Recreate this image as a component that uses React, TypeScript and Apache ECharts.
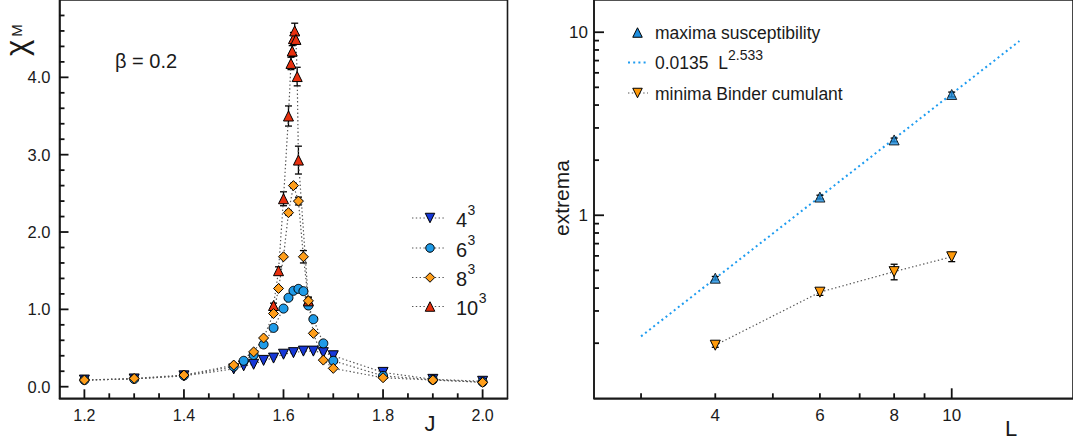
import React, { useEffect, useRef } from 'react';
import * as echarts from 'echarts';

// ---------- left panel: susceptibility chi_M vs J ----------
const J4 = [1.2, 1.3, 1.4, 1.5, 1.52, 1.54, 1.56, 1.58, 1.6, 1.62, 1.64, 1.66, 1.68, 1.7, 1.8, 1.9, 2.0];
const chi4 = [0.086, 0.1, 0.14, 0.23, 0.27, 0.29, 0.34, 0.37, 0.42, 0.44, 0.46, 0.46, 0.44, 0.4, 0.185, 0.095, 0.07];

const J6 = [1.2, 1.3, 1.4, 1.5, 1.52, 1.54, 1.56, 1.58, 1.6, 1.61, 1.62, 1.63, 1.64, 1.65, 1.66, 1.68, 1.7, 1.8, 1.9, 2.0];
const chi6 = [0.086, 0.1, 0.145, 0.26, 0.335, 0.41, 0.546, 0.76, 1.01, 1.15, 1.24, 1.265, 1.235, 1.05, 0.873, 0.56, 0.335, 0.14, 0.09, 0.06];

const J8 = [1.2, 1.3, 1.4, 1.5, 1.54, 1.56, 1.58, 1.59, 1.6, 1.61, 1.62, 1.63, 1.64, 1.65, 1.66, 1.68, 1.7, 1.8, 1.9, 2.0];
const chi8 = [0.086, 0.107, 0.15, 0.28, 0.45, 0.63, 0.946, 1.27, 1.68, 2.25, 2.6, 2.4, 1.68, 1.11, 0.69, 0.344, 0.237, 0.116, 0.086, 0.056];
const err8 = [0, 0, 0, 0, 0, 0, 0, 0, 0.02, 0.03, 0.03, 0.05, 0.08, 0.05, 0.02, 0, 0, 0, 0, 0];

const J10 = [1.58, 1.59, 1.6, 1.61, 1.615, 1.6175, 1.62, 1.6225, 1.625, 1.6275, 1.63, 1.65];
const chi10 = [1.05, 1.5, 2.43, 3.5, 4.18, 4.34, 4.5, 4.6, 4.49, 4.01, 2.93, 1.11];
const err10 = [0.03, 0.05, 0.09, 0.13, 0.08, 0.07, 0.08, 0.1, 0.06, 0.12, 0.18, 0.04];

const J_MIN = 1.15, J_MAX = 2.05, CHI_MIN = -0.15, CHI_MAX = 5;
const jTicks = [1.2, 1.4, 1.6, 1.8, 2.0];
const jMinor = [1.25, 1.3, 1.35, 1.45, 1.5, 1.55, 1.65, 1.7, 1.75, 1.85, 1.9, 1.95];
const chiTicks = [0, 1, 2, 3, 4];
const chiMinor = [0.2, 0.4, 0.6, 0.8, 1.2, 1.4, 1.6, 1.8, 2.2, 2.4, 2.6, 2.8, 3.2, 3.4, 3.6, 3.8, 4.2, 4.4, 4.6, 4.8];

// ---------- right panel: extrema vs L ----------
const L = [4, 6, 8, 10];
const maxChi = [0.453, 1.257, 2.58, 4.57];
const maxErr = [0.01, 0.03, 0.06, 0.14];
const minBinder = [0.195, 0.38, 0.492, 0.593];
const binderErr = [0.005, 0.015, 0.048, 0.035];
const fitL = [3, 13];
const fitVal = [0.218, 8.95];

const L_MIN = 2.5, L_MAX = 16, E_MIN = 0.1, E_MAX = 15;
const lTicks = [4, 6, 8, 10];
const lMajor = [10];
const lMinor = [3, 4, 5, 6, 7, 8, 9];
const eTicks = [1, 10];
const eMinor = [0.2, 0.3, 0.4, 0.5, 0.6, 0.7, 0.8, 0.9, 2, 3, 4, 5, 6, 7, 8, 9];

// legend labels
const sizeBase = ['4', '6', '8', '10'];
const sizeExp = '3';
const fitCoef = '0.0135  L';
const fitExp = '2.533';
const maxLabel = 'maxima susceptibility';
const minLabel = 'minima Binder cumulant';

const FONT = '"Liberation Sans", Arial, Helvetica, sans-serif';
const INK = '#1a1a1a';
const C4 = '#1638d8', C6 = '#1f9be8', C8 = '#ff9e1a', C10 = '#e8300e';
const CMAX = '#1e8fe0', CMIN = '#ff9a0a', CFIT = '#1e9cf0';

export default function App() {
  const ref = useRef<HTMLDivElement>(null);
  useEffect(() => {
    const chart = echarts.init(ref.current!, null, { renderer: 'svg' });
    const zip = (xs: number[], ys: number[], es?: number[]) =>
      xs.map((x, i) => (es ? [x, ys[i], es[i]] : [x, ys[i]]));
    const dotLine = { type: [1.4, 2.4], width: 1.2, color: '#555' };
    const axLine = { show: true, onZero: false, lineStyle: { color: INK, width: 1.6 } };
    const lbl = { fontSize: 16, color: INK, fontFamily: FONT };

    const errSeries = (xi: number, yi: number, data: number[][], z: number) => ({
      type: 'custom', xAxisIndex: xi, yAxisIndex: yi, z, silent: true, data,
      encode: { x: 0, y: 1 },
      renderItem: (_p: any, api: any) => {
        const x = api.value(0), y = api.value(1), e = api.value(2);
        if (!e) return null;
        const a = api.coord([x, y + e]);
        const b = api.coord([x, y - e]);
        const c = 3.5;
        const st = { stroke: '#000', lineWidth: 1.3 };
        return {
          type: 'group',
          children: [
            { type: 'line', shape: { x1: a[0], y1: a[1], x2: b[0], y2: b[1] }, style: st },
            { type: 'line', shape: { x1: a[0] - c, y1: a[1], x2: a[0] + c, y2: a[1] }, style: st },
            { type: 'line', shape: { x1: b[0] - c, y1: b[1], x2: b[0] + c, y2: b[1] }, style: st },
          ],
        };
      },
    });

    const sym = (color: string) => ({ color, borderColor: '#000', borderWidth: 1 });

    // ----- legend glyphs (graphic) -----
    const mk = (kind: string, cx: number, cy: number, fill: string, s: number) => {
      const st = { fill, stroke: '#000', lineWidth: 1 };
      const h = s / 2;
      if (kind === 'circle') return { type: 'circle', shape: { cx, cy, r: h - 0.5 }, style: st, z: 10 };
      if (kind === 'diamond')
        return { type: 'polygon', shape: { points: [[cx, cy - h], [cx + h, cy], [cx, cy + h], [cx - h, cy]] }, style: st, z: 10 };
      if (kind === 'up')
        return { type: 'polygon', shape: { points: [[cx, cy - h], [cx + h, cy + h], [cx - h, cy + h]] }, style: st, z: 10 };
      return { type: 'polygon', shape: { points: [[cx - h, cy - h], [cx + h, cy - h], [cx, cy + h]] }, style: st, z: 10 };
    };
    const dl = (x1: number, x2: number, y: number, stroke: string, w: number, dash: number[]) => ({
      type: 'line', shape: { x1, y1: y, x2, y2: y }, style: { stroke, lineWidth: w, lineDash: dash }, z: 9,
    });
    const txt = (t: string, x: number, y: number, size: number) => ({
      type: 'text', x, y, z: 10,
      style: { text: t, fontSize: size, fontFamily: FONT, fill: INK, verticalAlign: 'middle', align: 'left' },
    });

    const leftRows = [218, 248, 277.5, 306.5];
    const leftKinds = ['down', 'circle', 'diamond', 'up'];
    const leftFills = [C4, C6, C8, C10];
    const leftLegend: any[] = [];
    leftRows.forEach((y, i) => {
      leftLegend.push(dl(412, 446, y, '#555', 1.2, [1.4, 2.4]));
      leftLegend.push(mk(leftKinds[i], 430, y, leftFills[i], 9.5));
      leftLegend.push(txt(sizeBase[i], 456, y + 1.5, 20));
      leftLegend.push(txt(sizeExp, 456.5 + sizeBase[i].length * 11.1, y - 8.5, 14));
    });

    const rightLegend: any[] = [
      mk('up', 637.5, 32.5, CMAX, 9.5),
      txt(maxLabel, 655, 33, 17.5),
      dl(628, 648, 62.5, CFIT, 2, [2, 3.2]),
      txt(fitCoef, 655, 62.5, 17.5),
      txt(fitExp, 728, 55, 14),
      dl(628, 648, 93, '#555', 1.2, [1.4, 2.4]),
      mk('down', 637.5, 93, CMIN, 9.5),
      txt(minLabel, 655, 93.5, 17.5),
    ];

    const baseGraphic: any[] = [
      ...leftLegend,
      ...rightLegend,
      { type: 'text', left: 115, top: 51, style: { text: 'β = 0.2', fontSize: 20, fill: INK, fontFamily: FONT } },
      {
        type: 'text', x: 1, y: 56, rotation: Math.PI / 2,
        style: {
          text: '{c|χ}{m|M}', fill: INK,
          rich: {
            c: { fontSize: 31, fontFamily: FONT, fill: INK, lineHeight: 23, verticalAlign: 'top' },
            m: { fontSize: 15, fontFamily: FONT, fill: INK, verticalAlign: 'bottom', lineHeight: 15, padding: [0, 0, 0, 3] },
          },
        },
      },
      {
        type: 'text', x: 561, y: 198, rotation: Math.PI / 2,
        style: { text: 'extrema', fontSize: 21, fontFamily: FONT, fill: INK, align: 'center', verticalAlign: 'middle' },
      },
      { type: 'text', x: 430, y: 423, style: { text: 'J', fontSize: 22, fontFamily: FONT, fill: INK, align: 'center', verticalAlign: 'middle' } },
      { type: 'text', x: 1011, y: 428, style: { text: 'L', fontSize: 22, fontFamily: FONT, fill: INK, align: 'center', verticalAlign: 'middle' } },
    ];

    const option: any = {
      animation: false,
      backgroundColor: '#fff',
      grid: [
        { left: 59.5, top: -0.8, width: 448, height: 399.1, show: true, borderColor: INK, borderWidth: 1.6, containLabel: false },
        { left: 594, top: -1.2, width: 488, height: 399.5, show: true, borderColor: INK, borderWidth: 1.6, containLabel: false },
      ],
      xAxis: [
        {
          gridIndex: 0, type: 'value', min: J_MIN, max: J_MAX, position: 'bottom',
          axisLine: axLine, axisTick: { show: false },
          axisLabel: { ...lbl, customValues: jTicks, margin: 9, formatter: (v: number) => v.toFixed(1) },
          splitLine: { show: false },
        },
        {
          gridIndex: 1, type: 'log', logBase: 10, min: L_MIN, max: L_MAX, position: 'bottom',
          axisLine: axLine, axisTick: { show: false },
          axisLabel: { ...lbl, fontSize: 17, customValues: lTicks, margin: 9, formatter: (v: number) => String(Math.round(v)) },
          splitLine: { show: false },
        },
      ],
      yAxis: [
        {
          gridIndex: 0, type: 'value', min: CHI_MIN, max: CHI_MAX, position: 'left',
          axisLine: axLine, axisTick: { show: false },
          axisLabel: { ...lbl, fontSize: 16.5, customValues: chiTicks, margin: 9, formatter: (v: number) => v.toFixed(1) },
          splitLine: { show: false },
        },
        {
          gridIndex: 1, type: 'log', logBase: 10, min: E_MIN, max: E_MAX, position: 'left',
          axisLine: axLine, axisTick: { show: false },
          axisLabel: { ...lbl, fontSize: 17, customValues: eTicks, margin: 6, formatter: (v: number) => String(Math.round(v)) },
          splitLine: { show: false },
        },
      ],
      graphic: baseGraphic,
      series: [
        {
          name: '4^3', type: 'line', xAxisIndex: 0, yAxisIndex: 0, data: zip(J4, chi4), z: 3,
          symbol: 'triangle', symbolRotate: 180, symbolSize: 10, lineStyle: dotLine, itemStyle: sym(C4),
        },
        {
          name: '6^3', type: 'line', xAxisIndex: 0, yAxisIndex: 0, data: zip(J6, chi6), z: 3,
          symbol: 'circle', symbolSize: 9, lineStyle: dotLine, itemStyle: sym(C6),
        },
        errSeries(0, 0, zip(J10, chi10, err10), 2),
        {
          name: '10^3', type: 'line', xAxisIndex: 0, yAxisIndex: 0, data: zip(J10, chi10), z: 3,
          symbol: 'triangle', symbolSize: 10, lineStyle: dotLine, itemStyle: sym(C10),
        },
        errSeries(0, 0, zip(J8, chi8, err8), 2),
        {
          name: '8^3', type: 'line', xAxisIndex: 0, yAxisIndex: 0, data: zip(J8, chi8), z: 3,
          symbol: 'diamond', symbolSize: 10, lineStyle: dotLine, itemStyle: sym(C8),
        },
        {
          name: 'fit', type: 'line', xAxisIndex: 1, yAxisIndex: 1, data: zip(fitL, fitVal), z: 2,
          symbol: 'none', lineStyle: { type: [2, 3.2], width: 2, color: CFIT },
        },
        errSeries(1, 1, zip(L, maxChi, maxErr), 3),
        {
          name: maxLabel, type: 'scatter', xAxisIndex: 1, yAxisIndex: 1, data: zip(L, maxChi), z: 4,
          symbol: 'triangle', symbolSize: 10, itemStyle: sym(CMAX),
        },
        errSeries(1, 1, zip(L, minBinder, binderErr), 3),
        {
          name: minLabel, type: 'line', xAxisIndex: 1, yAxisIndex: 1, data: zip(L, minBinder), z: 4,
          symbol: 'triangle', symbolRotate: 180, symbolSize: 10, lineStyle: dotLine, itemStyle: sym(CMIN),
        },
      ],
    };
    chart.setOption(option);

    // inward axis ticks, placed with the chart's own axis scales
    const tickEls: any[] = [];
    const tickStyle = { stroke: '#111', lineWidth: 1.8 };
    const addX = (xi: number, yi: number, vals: number[], yv: number, len: number) =>
      vals.forEach((v) => {
        const p = chart.convertToPixel({ xAxisIndex: xi, yAxisIndex: yi }, [v, yv]) as number[];
        if (!p || !isFinite(p[0]) || !isFinite(p[1])) return;
        tickEls.push({ type: 'line', z: 20, shape: { x1: p[0], y1: p[1], x2: p[0], y2: p[1] - len }, style: tickStyle });
      });
    const addY = (xi: number, yi: number, vals: number[], xv: number, len: number) =>
      vals.forEach((v) => {
        const p = chart.convertToPixel({ xAxisIndex: xi, yAxisIndex: yi }, [xv, v]) as number[];
        if (!p || !isFinite(p[0]) || !isFinite(p[1])) return;
        tickEls.push({ type: 'line', z: 20, shape: { x1: p[0], y1: p[1], x2: p[0] + len, y2: p[1] }, style: tickStyle });
      });
    addX(0, 0, jTicks, CHI_MIN, 9);
    addX(0, 0, jMinor, CHI_MIN, 5);
    addY(0, 0, chiTicks, J_MIN, 9);
    addY(0, 0, chiMinor, J_MIN, 5);
    addX(1, 1, lMajor, E_MIN, 10);
    addX(1, 1, lMinor, E_MIN, 5);
    addY(1, 1, eTicks, L_MIN, 10);
    addY(1, 1, eMinor, L_MIN, 5);
    chart.setOption({ graphic: [...baseGraphic, ...tickEls] });

    return () => chart.dispose();
  }, []);
  return (
    <div
      ref={ref}
      style={{ position: 'fixed', left: 0, top: 0, width: 1073, height: 441, background: '#fff' }}
    />
  );
}
